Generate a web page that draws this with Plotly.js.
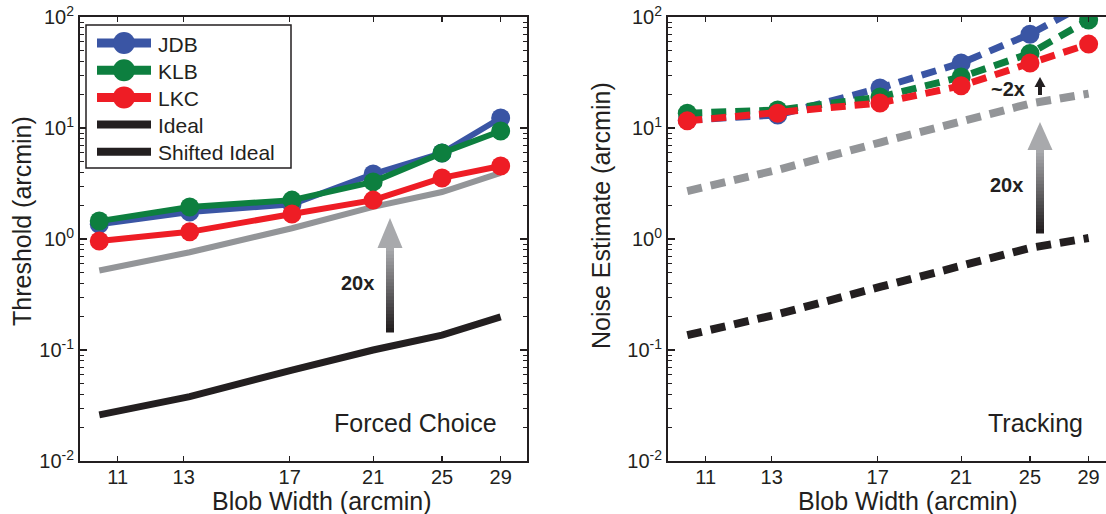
<!DOCTYPE html>
<html>
<head>
<meta charset="utf-8">
<script src="https://cdn.plot.ly/plotly-3.0.1.min.js"></script>
<style>html,body{margin:0;padding:0;background:#fff;}#chart{width:1106px;height:514px;}</style>
</head>
<body>
<div id="chart"></div>
<script>
// ---- data ----
var blobWidth = [10.5, 13.2, 17.1, 21, 25, 29];
var xTickVals = [11, 13, 17, 21, 25, 29];
var xTickText = ['11', '13', '17', '21', '25', '29'];
var yTickVals = [0.01, 0.1, 1, 10, 100];
var yTickText = ['10<sup>-2</sup>', '10<sup>-1</sup>', '10<sup>0</sup>', '10<sup>1</sup>', '10<sup>2</sup>'];
var seriesNames = ['JDB', 'KLB', 'LKC', 'Ideal', 'Shifted Ideal'];
var xTitle = 'Blob Width (arcmin)';
var yTitleLeft = 'Threshold (arcmin)';
var yTitleRight = 'Noise Estimate (arcmin)';

// Forced choice thresholds
var fcJDB = [1.36, 1.75, 2.05, 3.85, 5.95, 12.3];
var fcKLB = [1.45, 1.94, 2.24, 3.27, 5.95, 9.4];
var fcLKC = [0.96, 1.16, 1.68, 2.24, 3.55, 4.55];
var fcIdeal = [0.026, 0.038, 0.066, 0.1, 0.136, 0.199];
var fcShifted = [0.52, 0.76, 1.25, 1.95, 2.65, 3.95];

// Tracking noise estimates
var trJDB = [11.8, 13.1, 22.9, 38.5, 70, 135];
var trKLB = [13.6, 14.5, 19, 28.8, 47, 94];
var trLKC = [11.6, 13.6, 16.8, 24, 38.5, 57];
var trIdeal = [0.136, 0.21, 0.37, 0.56, 0.83, 1.02];
var trShifted = [2.7, 4.2, 7.4, 11.2, 16.6, 20.4];

// ---- style ----
var W = 1106, H = 514;
var C = {JDB: '#3A55A4', KLB: '#0D7F3F', LKC: '#EE1D25', Ideal: '#231F20', Shifted: '#939598'};
var FONT = 'Liberation Sans, Arial, Helvetica, sans-serif';
var INK = '#231F20';
function px(x) { return x / W; }
function py(y) { return 1 - y / H; }

var minorVals = [];
[0.01, 0.1, 1, 10].forEach(function (d) { for (var k = 2; k <= 9; k++) minorVals.push(d * k); });

var LW = 6, MS = 19;
var traces = [];
// left panel
traces.push({x: blobWidth, y: fcIdeal, xaxis: 'x', yaxis: 'y', mode: 'lines', name: seriesNames[3],
  line: {color: C.Ideal, width: 7}});
traces.push({x: blobWidth, y: fcShifted, xaxis: 'x', yaxis: 'y', mode: 'lines', name: seriesNames[4],
  line: {color: C.Shifted, width: LW}});
traces.push({x: blobWidth, y: fcJDB, xaxis: 'x', yaxis: 'y', mode: 'lines+markers', name: seriesNames[0],
  line: {color: C.JDB, width: LW}, marker: {color: C.JDB, size: MS}});
traces.push({x: blobWidth, y: fcKLB, xaxis: 'x', yaxis: 'y', mode: 'lines+markers', name: seriesNames[1],
  line: {color: C.KLB, width: LW}, marker: {color: C.KLB, size: MS}});
traces.push({x: blobWidth, y: fcLKC, xaxis: 'x', yaxis: 'y', mode: 'lines+markers', name: seriesNames[2],
  line: {color: C.LKC, width: LW}, marker: {color: C.LKC, size: MS}});

// right panel
var DASH = '15px,9px';
traces.push({x: blobWidth, y: trIdeal, xaxis: 'x2', yaxis: 'y2', mode: 'lines', name: seriesNames[3],
  line: {color: C.Ideal, width: 8, dash: DASH}});
traces.push({x: blobWidth, y: trShifted, xaxis: 'x2', yaxis: 'y2', mode: 'lines', name: seriesNames[4],
  line: {color: C.Shifted, width: 8, dash: DASH}});
traces.push({x: blobWidth, y: trJDB, xaxis: 'x2', yaxis: 'y2', mode: 'lines+markers', name: seriesNames[0],
  line: {color: C.JDB, width: 7, dash: DASH}, marker: {color: C.JDB, size: MS}});
traces.push({x: blobWidth, y: trKLB, xaxis: 'x2', yaxis: 'y2', mode: 'lines+markers', name: seriesNames[1],
  line: {color: C.KLB, width: 7, dash: DASH}, marker: {color: C.KLB, size: MS}});
traces.push({x: blobWidth, y: trLKC, xaxis: 'x2', yaxis: 'y2', mode: 'lines+markers', name: seriesNames[2],
  line: {color: C.LKC, width: 7, dash: DASH}, marker: {color: C.LKC, size: MS}});

function xAxis(domain, range) {
  return {
    type: 'log', domain: domain, range: range,
    tickmode: 'array', tickvals: xTickVals, ticktext: xTickText,
    ticks: 'inside', ticklen: 5, tickwidth: 1.2, tickcolor: INK,
    ticklabelstandoff: -3,
    showline: true, linecolor: INK, linewidth: 2, mirror: 'ticks',
    showgrid: false, zeroline: false, automargin: false,
    tickfont: {family: FONT, size: 20, color: INK}
  };
}
function yAxis(domain, anchor, mirror) {
  return {
    type: 'log', domain: domain, range: [-2, 2], anchor: anchor,
    tickmode: 'array', tickvals: yTickVals, ticktext: yTickText,
    ticks: 'inside', ticklen: 7, tickwidth: 1.2, tickcolor: INK,
    minor: {tickmode: 'array', tickvals: minorVals, ticks: 'inside', ticklen: 4, tickwidth: 1, tickcolor: INK, showgrid: false},
    showline: true, linecolor: INK, linewidth: 2, mirror: mirror,
    showgrid: false, zeroline: false, automargin: false,
    tickfont: {family: FONT, size: 20, color: INK}
  };
}

var yDom = [py(461), py(17)];
var xa = xAxis([px(80), px(527)], [1, Math.log10(31)]);
xa.anchor = 'y';
var xa2 = xAxis([px(668), 1], [1, 1.4815]);
xa2.anchor = 'y2';

// gradient arrows built from thin bands
var shapes = [];
function gradArrow(cx, tipY, baseY, bottomY, shaftW, headW) {
  var n = 24, h = (bottomY - baseY) / n;
  for (var i = 0; i < n; i++) {
    var t = i / (n - 1);
    var g0 = [168, 169, 172], g1 = [35, 31, 32];
    var c = 'rgb(' + [0, 1, 2].map(function (k) { return Math.round(g0[k] + (g1[k] - g0[k]) * t); }).join(',') + ')';
    shapes.push({type: 'rect', xref: 'paper', yref: 'paper', layer: 'above',
      x0: px(cx - shaftW / 2), x1: px(cx + shaftW / 2), y0: py(baseY + h * i - 0.5), y1: py(baseY + h * (i + 1) + 0.5),
      fillcolor: c, line: {width: 0}});
  }
  shapes.push({type: 'path', xref: 'paper', yref: 'paper', layer: 'above',
    path: 'M' + px(cx) + ',' + py(tipY) + ' L' + px(cx - headW / 2) + ',' + py(baseY) + ' L' + px(cx + headW / 2) + ',' + py(baseY) + ' Z',
    fillcolor: 'rgb(168,169,172)', line: {width: 0}});
}
gradArrow(390, 218, 248, 332, 8, 25);
gradArrow(1040, 122, 150, 233, 8, 25);
// small black arrow
shapes.push({type: 'rect', xref: 'paper', yref: 'paper', layer: 'above',
  x0: px(1038), x1: px(1042), y0: py(95), y1: py(85), fillcolor: INK, line: {width: 0}});
shapes.push({type: 'path', xref: 'paper', yref: 'paper', layer: 'above',
  path: 'M' + px(1040) + ',' + py(77) + ' L' + px(1034.5) + ',' + py(87) + ' L' + px(1045.5) + ',' + py(87) + ' Z',
  fillcolor: INK, line: {width: 0}});

var TF = {family: FONT, size: 25, color: INK};
var annotations = [
  {text: xTitle, xref: 'paper', yref: 'paper', x: px(322), y: py(501), xanchor: 'center', yanchor: 'middle',
    showarrow: false, font: TF},
  {text: xTitle, xref: 'paper', yref: 'paper', x: px(908), y: py(501), xanchor: 'center', yanchor: 'middle',
    showarrow: false, font: TF},
  {text: yTitleLeft, xref: 'paper', yref: 'paper', x: px(22), y: py(221), xanchor: 'center', yanchor: 'middle',
    textangle: -90, showarrow: false, font: TF},
  {text: yTitleRight, xref: 'paper', yref: 'paper', x: px(601), y: py(216), xanchor: 'center', yanchor: 'middle',
    textangle: -90, showarrow: false, font: TF},
  {text: 'Forced Choice', xref: 'paper', yref: 'paper', x: px(499), y: py(423), xanchor: 'right', yanchor: 'middle',
    showarrow: false, font: TF},
  {text: 'Tracking', xref: 'paper', yref: 'paper', x: px(1085), y: py(423), xanchor: 'right', yanchor: 'middle',
    showarrow: false, font: TF},
  {text: '<b>20x</b>', xref: 'paper', yref: 'paper', x: px(357), y: py(283), xanchor: 'center', yanchor: 'middle',
    showarrow: false, font: {family: FONT, size: 20, color: INK}},
  {text: '<b>20x</b>', xref: 'paper', yref: 'paper', x: px(1006), y: py(185), xanchor: 'center', yanchor: 'middle',
    showarrow: false, font: {family: FONT, size: 20, color: INK}},
  {text: '<b>~2x</b>', xref: 'paper', yref: 'paper', x: px(1008), y: py(89), xanchor: 'center', yanchor: 'middle',
    showarrow: false, font: {family: FONT, size: 20, color: INK}}
];

// ---- legend box (drawn as the original: big markers, both ideal lines black) ----
var legendColors = [C.JDB, C.KLB, C.LKC, C.Ideal, C.Ideal];
var legendMarker = [true, true, true, false, false];
shapes.push({type: 'rect', xref: 'paper', yref: 'paper', layer: 'above',
  x0: px(86), x1: px(291), y0: py(168), y1: py(25), fillcolor: '#fff', line: {color: INK, width: 1.5}});
seriesNames.forEach(function (name, i) {
  var cy = 43 + i * 27.2;
  shapes.push({type: 'line', xref: 'paper', yref: 'paper', layer: 'above',
    x0: px(97), x1: px(151), y0: py(cy), y1: py(cy), line: {color: legendColors[i], width: legendMarker[i] ? 9 : 8}});
  if (legendMarker[i]) {
    shapes.push({type: 'circle', xref: 'paper', yref: 'paper', layer: 'above',
      x0: px(124 - 11), x1: px(124 + 11), y0: py(cy + 11), y1: py(cy - 11), fillcolor: legendColors[i], line: {width: 0}});
  }
  annotations.push({text: name, xref: 'paper', yref: 'paper', x: px(156), y: py(cy + 1), xanchor: 'left', yanchor: 'middle',
    showarrow: false, font: {family: FONT, size: 21, color: INK}});
});

var layout = {
  width: W, height: H,
  margin: {l: 0, r: 0, t: 0, b: 0, pad: 0},
  paper_bgcolor: '#fff', plot_bgcolor: '#fff',
  font: {family: FONT, color: INK},
  xaxis: xa,
  yaxis: yAxis(yDom, 'x', 'ticks'),
  xaxis2: xa2,
  yaxis2: yAxis(yDom, 'x2', false),
  showlegend: false,
  shapes: shapes,
  annotations: annotations
};

Plotly.newPlot('chart', traces, layout, {displayModeBar: false, staticPlot: true});
</script>
</body>
</html>
